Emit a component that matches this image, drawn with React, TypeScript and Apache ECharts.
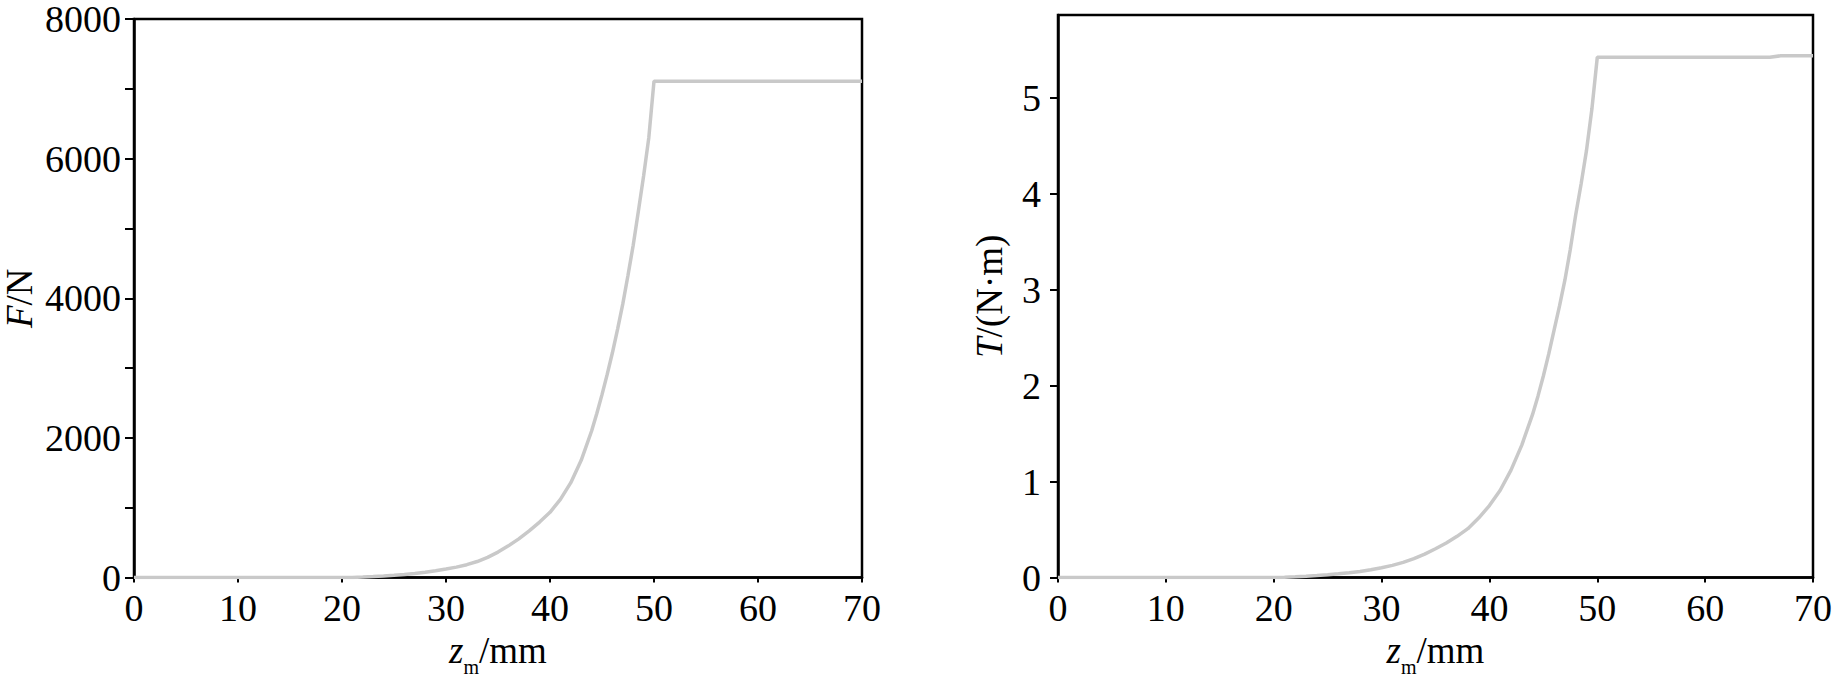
import React, { useEffect, useRef } from 'react';
import * as echarts from 'echarts';

// z_m positions (mm) shared by both curves
const zPositions = [
  0, 20, 21, 22, 23, 24, 25, 26, 27, 28, 29, 30, 31, 32, 33, 34, 35, 36, 37, 38, 39,
  40, 41, 42, 43, 44, 44.5, 45, 45.5, 46, 46.5, 47, 47.5, 48, 48.5, 49, 49.5, 50, 66, 67, 70,
];

// force F (N)
const forceValues = [
  0, 0, 3, 8, 14, 22, 32, 45, 60, 78, 98, 122, 150, 185, 230, 290, 365, 455, 555, 670, 795,
  935, 1120, 1360, 1680, 2100, 2350, 2620, 2910, 3220, 3560, 3920, 4330, 4760, 5250, 5750,
  6300, 7110, 7110, 7110, 7110,
];

// torque T (N·m)
const torqueValues = [
  0, 0, 0.003, 0.008, 0.014, 0.021, 0.029, 0.039, 0.05, 0.064, 0.081, 0.102, 0.127, 0.158,
  0.197, 0.245, 0.3, 0.36, 0.43, 0.51, 0.62, 0.75, 0.91, 1.12, 1.38, 1.7, 1.89, 2.1, 2.33,
  2.58, 2.83, 3.1, 3.42, 3.78, 4.1, 4.45, 4.88, 5.42, 5.42, 5.435, 5.435,
];

const torqueTicks = [0, 1, 2, 3, 4, 5];

const FONT = "'Liberation Serif', 'Times New Roman', serif";

const App: React.FC = () => {
  const chartRef = useRef<HTMLDivElement | null>(null);

  useEffect(() => {
    if (!chartRef.current) return;
    const chart = echarts.init(chartRef.current, null, { renderer: 'svg' });

    const axisLine = { show: true, lineStyle: { color: '#000', width: 2.5 } };
    const labelStyle = {
      color: '#000',
      fontSize: 38,
      lineHeight: 30,
      fontFamily: FONT,
      formatter: (v: number) => String(v),
    };
    const nameStyle = {
      color: '#000',
      fontSize: 37,
      fontFamily: FONT,
      rich: {
        i: { fontStyle: 'italic', fontSize: 37, fontFamily: FONT, color: '#000' },
        s: { fontSize: 20, fontFamily: FONT, color: '#000', padding: [34, 0, 0, 0] },
      },
    };

    const xAxisBase = {
      type: 'value',
      min: 0,
      max: 70,
      interval: 10,
      name: '{i|z}{s|m}/mm',
      nameLocation: 'middle',
      nameGap: 42,
      nameTextStyle: nameStyle,
      axisLine,
      axisTick: { show: true, inside: false, length: 5, lineStyle: { color: '#000', width: 2 } },
      axisLabel: { ...labelStyle, margin: 15 },
      splitLine: { show: false },
    };

    const toPairs = (vals: number[]) => zPositions.map((z, i) => [z, vals[i]]);

    const lineSeries = {
      type: 'line',
      showSymbol: false,
      smooth: false,
      lineStyle: { color: '#c9c9c9', width: 3.5 },
    };

    const option = {
      animation: false,
      backgroundColor: '#fff',
      grid: [
        { left: 128, top: 16, width: 734, height: 564, show: true, borderColor: '#000', borderWidth: 2.5 },
        { left: 1058, top: 15, width: 755, height: 566, show: true, borderColor: '#000', borderWidth: 2.5 },
      ],
      xAxis: [
        { ...xAxisBase, gridIndex: 0 },
        { ...xAxisBase, gridIndex: 1 },
      ],
      yAxis: [
        {
          type: 'value',
          gridIndex: 0,
          min: 0,
          max: 8000,
          interval: 2000,
          name: '{i|F}/N',
          nameLocation: 'middle',
          nameGap: 96,
          nameTextStyle: nameStyle,
          axisLine,
          axisTick: { show: true, inside: false, length: 9, lineStyle: { color: '#000', width: 2 } },
          minorTick: { show: true, splitNumber: 2, length: 9, lineStyle: { color: '#000', width: 2 } },
          axisLabel: { ...labelStyle, margin: 13 },
          splitLine: { show: false },
        },
        {
          type: 'value',
          gridIndex: 1,
          min: 0,
          max: 5.86,
          name: '{i|T}/(N·m)',
          nameLocation: 'middle',
          nameGap: 50,
          nameTextStyle: nameStyle,
          axisLine,
          axisTick: {
            show: true,
            inside: false,
            length: 8,
            customValues: torqueTicks,
            lineStyle: { color: '#000', width: 2 },
          },
          axisLabel: { ...labelStyle, margin: 17, customValues: torqueTicks },
          splitLine: { show: false },
        },
      ],
      series: [
        { ...lineSeries, xAxisIndex: 0, yAxisIndex: 0, data: toPairs(forceValues) },
        { ...lineSeries, xAxisIndex: 1, yAxisIndex: 1, data: toPairs(torqueValues) },
      ],
    };

    chart.setOption(option);

    return () => {
      chart.dispose();
    };
  }, []);

  return (
    <div
      ref={chartRef}
      style={{ position: 'fixed', left: 0, top: 0, width: '1837px', height: '682px', background: '#fff' }}
    />
  );
};

export default App;
